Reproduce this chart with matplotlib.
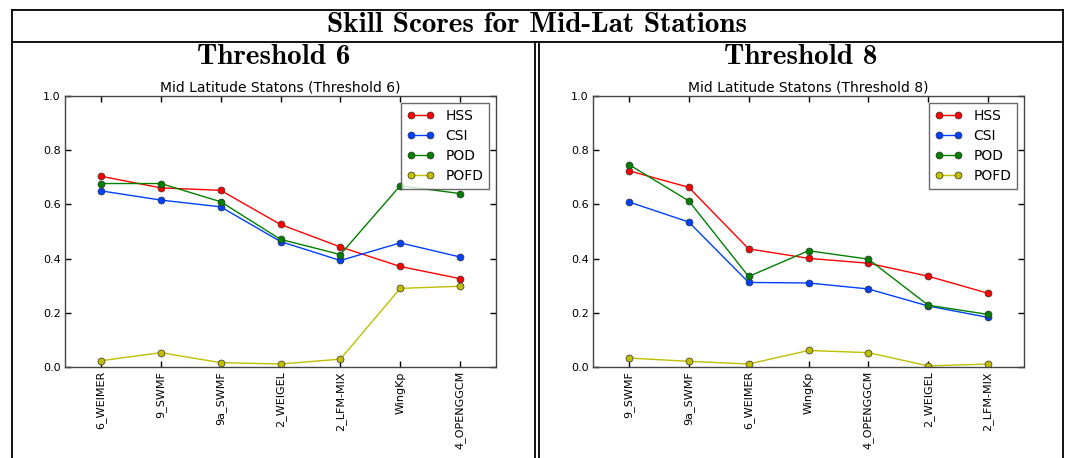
import matplotlib.pyplot as plt
from matplotlib.lines import Line2D

# Station ordering and scores per threshold
stations_t6 = ["6_WEIMER", "9_SWMF", "9a_SWMF", "2_WEIGEL", "2_LFM-MIX", "WingKp", "4_OPENGGCM"]
hss_t6 = [0.704, 0.661, 0.652, 0.526, 0.443, 0.371, 0.326]
csi_t6 = [0.650, 0.616, 0.591, 0.463, 0.393, 0.458, 0.406]
pod_t6 = [0.677, 0.677, 0.610, 0.471, 0.415, 0.669, 0.640]
pofd_t6 = [0.023, 0.053, 0.016, 0.011, 0.029, 0.290, 0.298]

stations_t8 = ["9_SWMF", "9a_SWMF", "6_WEIMER", "WingKp", "4_OPENGGCM", "2_WEIGEL", "2_LFM-MIX"]
hss_t8 = [0.724, 0.663, 0.436, 0.401, 0.383, 0.335, 0.272]
csi_t8 = [0.609, 0.535, 0.312, 0.310, 0.288, 0.225, 0.183]
pod_t8 = [0.747, 0.613, 0.334, 0.429, 0.398, 0.228, 0.194]
pofd_t8 = [0.033, 0.021, 0.011, 0.061, 0.053, 0.004, 0.011]

W, H = 1068, 458


def px_axes(fig, x0, y0, x1, y1):
    return fig.add_axes([x0 / W, 1 - y1 / H, (x1 - x0) / W, (y1 - y0) / H])


def draw_panel(ax, stations, hss, csi, pod, pofd, thr):
    x = range(len(stations))
    for vals, col, lab in [(hss, "#ff0000", "HSS"), (csi, "#0040ff", "CSI"),
                           (pod, "#008000", "POD"), (pofd, "#bfbf00", "POFD")]:
        ax.plot(x, vals, "-o", color=col, lw=1.0, ms=5, mec="#333333",
                mew=0.5, label=lab)
    ax.set_xlim(-0.6, len(stations) - 0.4)
    ax.set_ylim(0, 1.0)
    ax.set_yticks([0.0, 0.2, 0.4, 0.6, 0.8, 1.0])
    ax.set_xticks(list(x))
    ax.set_xticklabels(stations, rotation=90, fontsize=8)
    ax.tick_params(axis="both", direction="in", top=True, right=True,
                   length=4, width=1, labelsize=8, pad=3)
    for s in ax.spines.values():
        s.set_linewidth(1.0)
        s.set_color("#444444")
    ax.set_title(f"Mid Latitude Statons (Threshold {thr})", fontsize=10, pad=3)
    leg = ax.legend(loc="upper right", numpoints=2, fontsize=10, fancybox=False,
                    borderpad=0.4, labelspacing=0.45, handlelength=2.0,
                    borderaxespad=0.5)
    leg.get_frame().set_edgecolor("#444444")
    leg.get_frame().set_linewidth(1.0)


fig = plt.figure(figsize=(W / 100, H / 100), dpi=100)
fig.patch.set_facecolor("white")

# table-like frame around the panels
frame = fig.add_axes([0, 0, 1, 1])
frame.set_xlim(0, W)
frame.set_ylim(H, 0)
frame.axis("off")
for xs, ys in [([11.5, 11.5], [9.5, H]), ([1063, 1063], [9.5, H]),
               ([11.5, 1063], [9.5, 9.5]), ([11.5, 1063], [41.5, 41.5]),
               ([535.3, 535.3], [41.5, H]), ([539.3, 539.3], [41.5, H])]:
    frame.add_line(Line2D(xs, ys, color="black", lw=1.3))

frame.text(537, 25, "Skill Scores for Mid-Lat Stations", fontfamily="cmb10",
           fontsize=21, ha="center", va="center")
frame.text(274, 57, "Threshold 6", fontfamily="cmb10", fontsize=21,
           ha="center", va="center")
frame.text(801, 57, "Threshold 8", fontfamily="cmb10", fontsize=21,
           ha="center", va="center")

ax1 = px_axes(fig, 65, 96, 496, 367)
draw_panel(ax1, stations_t6, hss_t6, csi_t6, pod_t6, pofd_t6, 6)

ax2 = px_axes(fig, 593, 96, 1024, 367)
draw_panel(ax2, stations_t8, hss_t8, csi_t8, pod_t8, pofd_t8, 8)

fig.savefig("out.png", dpi=100)
